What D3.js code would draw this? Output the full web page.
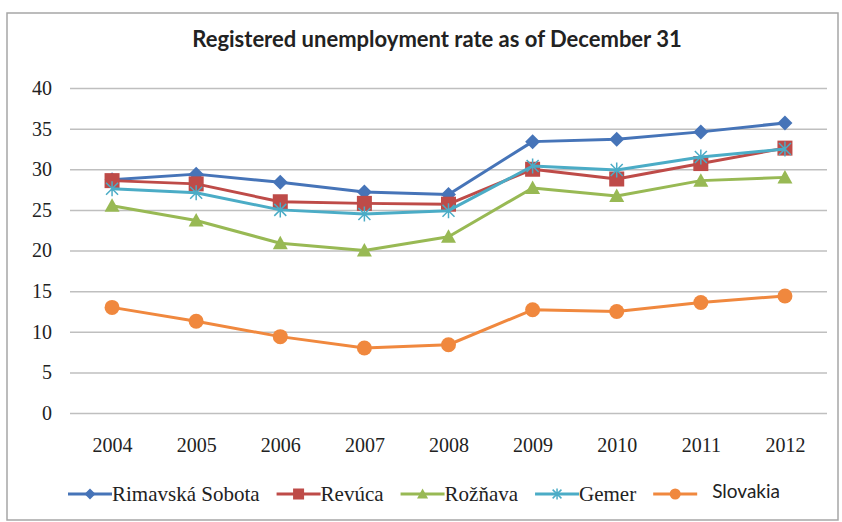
<!DOCTYPE html>
<html>
<head>
<meta charset="utf-8">
<script src="https://cdn.jsdelivr.net/npm/d3@7"></script>
<style>
  body { margin: 0; background: #fff; }
  svg { display: block; }
</style>
</head>
<body>
<div id="chart"></div>
<script>
// Data
const years = ['2004', '2005', '2006', '2007', '2008', '2009', '2010', '2011', '2012'];
const rimavskaSobota = [28.7, 29.4, 28.4, 27.2, 26.9, 33.4, 33.7, 34.6, 35.7];
const revuca = [28.6, 28.2, 26.0, 25.8, 25.7, 30.0, 28.8, 30.7, 32.6];
const roznava = [25.5, 23.7, 20.9, 20.0, 21.7, 27.7, 26.7, 28.6, 29.0];
const gemer = [27.6, 27.1, 25.0, 24.5, 24.9, 30.4, 29.9, 31.5, 32.5];
const slovakia = [13.0, 11.3, 9.4, 8.0, 8.4, 12.7, 12.5, 13.6, 14.4];
const yTicks = [0, 5, 10, 15, 20, 25, 30, 35, 40];

const series = [
  { name: 'Rimavská Sobota', values: rimavskaSobota, color: '#4674B8', marker: 'diamond', font: 'serif' },
  { name: 'Revúca', values: revuca, color: '#BE4B48', marker: 'square', font: 'serif' },
  { name: 'Rožňava', values: roznava, color: '#98B954', marker: 'triangle', font: 'serif' },
  { name: 'Gemer', values: gemer, color: '#4BACC6', marker: 'star', font: 'serif' },
  { name: 'Slovakia', values: slovakia, color: '#F0883E', marker: 'circle', font: 'sans' }
];

const W = 842, H = 522;
const plot = { left: 70, right: 827, top: 88, bottom: 413 };
const serifFont = '"Liberation Serif", "DejaVu Serif", serif';
const sansFont = 'Lato, "Open Sans", sans-serif';

const svg = d3.select('#chart')
  .append('svg')
  .attr('width', W)
  .attr('height', H);

// chart frame
svg.append('rect')
  .attr('x', 7).attr('y', 13)
  .attr('width', 831).attr('height', 507)
  .attr('fill', '#fff')
  .attr('stroke', '#a6a6a6')
  .attr('stroke-width', 1.5);

// title
svg.append('text')
  .attr('x', 437).attr('y', 47)
  .attr('text-anchor', 'middle')
  .attr('font-family', sansFont)
  .attr('font-weight', 'bold')
  .attr('font-size', 22)
  .attr('fill', '#222')
  .text('Registered unemployment rate as of December 31');

// scales
const x = d3.scalePoint().domain(years).range([plot.left, plot.right]).padding(0.5);
const y = d3.scaleLinear().domain([0, 40]).range([plot.bottom, plot.top]);

// y axis with gridlines
const yAxis = svg.append('g')
  .attr('transform', `translate(${plot.left},0)`)
  .call(d3.axisLeft(y).tickValues(yTicks).tickSize(-(plot.right - plot.left)).tickPadding(18));
yAxis.select('.domain').remove();
yAxis.selectAll('.tick line').attr('stroke', '#bfbfbf').attr('stroke-width', 1.5);
yAxis.selectAll('.tick text')
  .attr('font-family', serifFont)
  .attr('font-size', 20)
  .attr('fill', '#222');

// x axis labels
const xAxis = svg.append('g')
  .attr('transform', `translate(0,${plot.bottom})`)
  .call(d3.axisBottom(x).tickSize(0).tickPadding(25));
xAxis.select('.domain').remove();
xAxis.selectAll('.tick text')
  .attr('font-family', serifFont)
  .attr('font-size', 20)
  .attr('fill', '#222');

// markers
function drawMarker(g, type, color, cx, cy, s) {
  if (type === 'diamond') {
    g.append('path')
      .attr('d', `M${cx},${cy - s}L${cx + s},${cy}L${cx},${cy + s}L${cx - s},${cy}Z`)
      .attr('fill', color);
  } else if (type === 'square') {
    g.append('rect')
      .attr('x', cx - s).attr('y', cy - s)
      .attr('width', 2 * s).attr('height', 2 * s)
      .attr('fill', color);
  } else if (type === 'triangle') {
    g.append('path')
      .attr('d', `M${cx},${cy - s}L${cx + s},${cy + s * 0.8}L${cx - s},${cy + s * 0.8}Z`)
      .attr('fill', color);
  } else if (type === 'star') {
    const d = s * 0.8;
    g.append('path')
      .attr('d', `M${cx - d},${cy - d}L${cx + d},${cy + d}M${cx - d},${cy + d}L${cx + d},${cy - d}M${cx},${cy - s}L${cx},${cy + s}`)
      .attr('stroke', color)
      .attr('stroke-width', 1.5)
      .attr('fill', 'none');
  } else {
    g.append('circle')
      .attr('cx', cx).attr('cy', cy).attr('r', s)
      .attr('fill', color);
  }
}

const line = d3.line()
  .x((d, i) => x(years[i]))
  .y(d => y(d));

series.forEach(s => {
  const g = svg.append('g');
  g.append('path')
    .datum(s.values)
    .attr('d', line)
    .attr('fill', 'none')
    .attr('stroke', s.color)
    .attr('stroke-width', 3)
    .attr('stroke-linejoin', 'round');
  s.values.forEach((v, i) => drawMarker(g, s.marker, s.color, x(years[i]), y(v), 7.5));
});

// legend
const legend = svg.append('g');
let lx = 68;
const ly = 494;
series.forEach(s => {
  const item = legend.append('g');
  item.append('line')
    .attr('x1', lx).attr('x2', lx + 44)
    .attr('y1', ly).attr('y2', ly)
    .attr('stroke', s.color)
    .attr('stroke-width', 3);
  drawMarker(item, s.marker, s.color, lx + 22, ly, 5.5);
  const isSans = s.font === 'sans';
  const t = item.append('text')
    .attr('x', lx + 44 + (isSans ? 15 : 0))
    .attr('y', isSans ? ly - 3 : ly)
    .attr('dy', '0.35em')
    .attr('font-family', isSans ? sansFont : serifFont)
    .attr('font-size', isSans ? 19 : 21)
    .attr('fill', '#222')
    .text(s.name);
  lx += 44 + (isSans ? 15 : 0) + t.node().getComputedTextLength() + 17;
});
</script>
</body>
</html>
